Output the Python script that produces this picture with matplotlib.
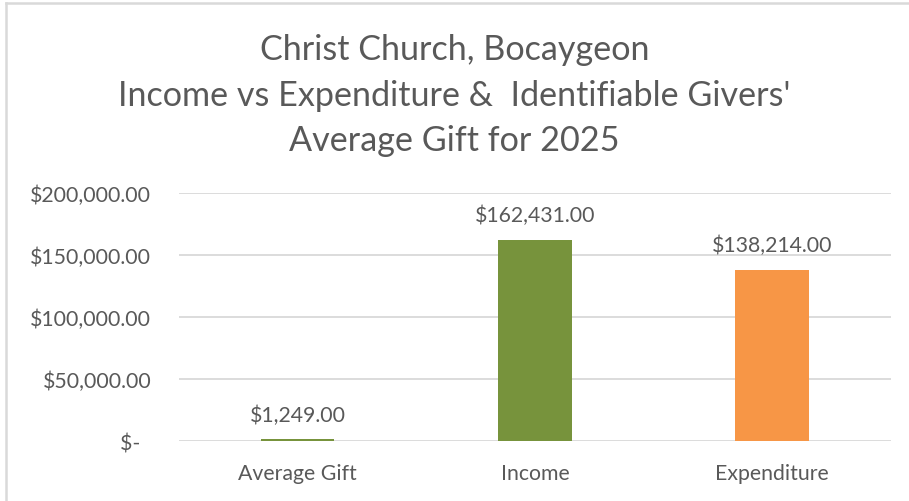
import matplotlib
matplotlib.use("Agg")
import matplotlib.pyplot as plt
from matplotlib.lines import Line2D
from matplotlib.ticker import FuncFormatter

# values
categories = ["Average Gift", "Income", "Expenditure"]
amounts = [1249.00, 162431.00, 138214.00]
bar_colors = ["#77933C", "#77933C", "#F79646"]
y_ticks = [0, 50000, 100000, 150000, 200000]
title_lines = ["Christ Church, Bocaygeon",
               "Income vs Expenditure &  Identifiable Givers'",
               "Average Gift for 2025"]

TEXT_COLOR = "#595959"
GRID_COLOR = "#D9D9D9"
plt.rcParams["font.family"] = ["Lato", "DejaVu Sans"]


def money(v, pos=None):
    if v == 0:
        return "$-  "
    return "${:,.2f}".format(v)


fig = plt.figure(figsize=(9.09, 5.02), dpi=100)
ax = fig.add_axes([0.197, 0.1195, 0.783, 0.494])

x = range(len(categories))
bars = ax.bar(x, amounts, width=0.31, color=bar_colors, zorder=3)

ax.set_xlim(-0.5, len(categories) - 0.5)
ax.set_ylim(0, 200000)
ax.set_yticks(y_ticks)
ax.yaxis.set_major_formatter(FuncFormatter(money))
ax.set_xticks(list(x))
ax.set_xticklabels(categories)

ax.grid(axis="y", color=GRID_COLOR, linewidth=1.3, zorder=0)
for s in ax.spines.values():
    s.set_visible(False)
ax.tick_params(axis="both", length=0, labelsize=15.3, colors=TEXT_COLOR)
ax.tick_params(axis="y", pad=20)
ax.tick_params(axis="x", pad=16)

for b, v in zip(bars, amounts):
    ax.annotate(money(v), (b.get_x() + b.get_width() / 2, b.get_height()),
                xytext=(0, 18), textcoords="offset points",
                ha="center", va="center", fontsize=15.3, color=TEXT_COLOR)

# three title lines, baselines about 46 px apart
for i, line in enumerate(title_lines):
    fig.text(0.5, 0.8805 - i * 0.0908, line, ha="center", va="baseline",
             fontsize=24.6, color=TEXT_COLOR)

# chart area border (only top and left edges show in the crop)
fig.add_artist(Line2D([0.007, 0.007], [0.0, 0.992], color=GRID_COLOR, linewidth=1.8))
fig.add_artist(Line2D([0.007, 1.0], [0.992, 0.992], color=GRID_COLOR, linewidth=1.8))

fig.savefig("out.png", dpi=100, facecolor="white")
